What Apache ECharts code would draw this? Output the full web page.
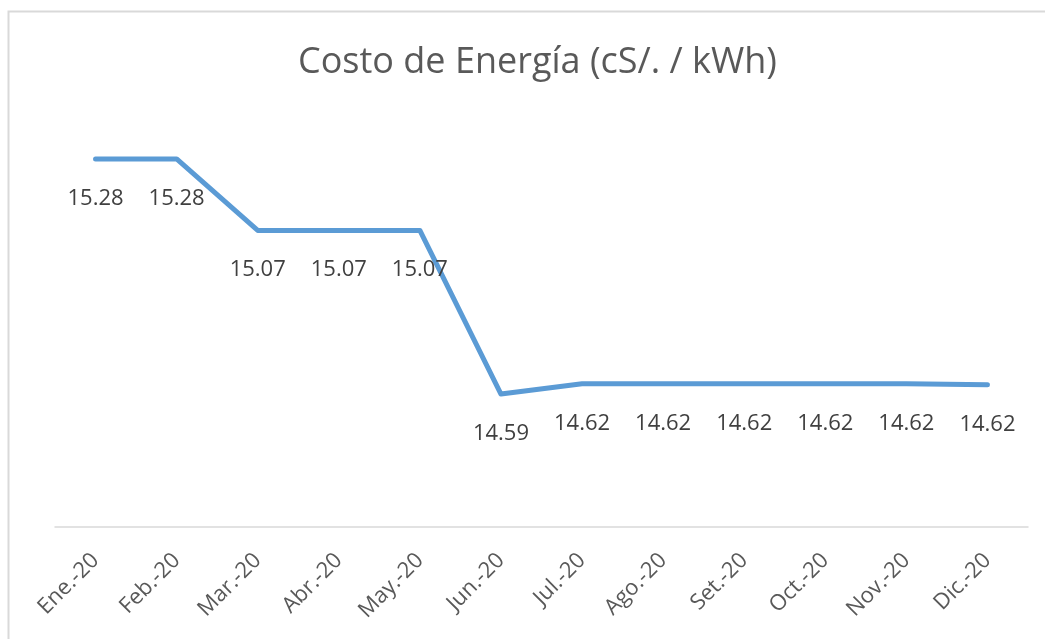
<!DOCTYPE html>
<html>
<head>
<meta charset="utf-8">
<script src="https://cdn.jsdelivr.net/npm/echarts@6/dist/echarts.min.js"></script>
<style>
  html, body { margin: 0; padding: 0; background: #fff; }
  #chart { width: 1045px; height: 639px; }
</style>
</head>
<body>
<div id="chart"></div>
<script>
// meses y costo de energía
const months = ["Ene.-20", "Feb.-20", "Mar.-20", "Abr.-20", "May.-20", "Jun.-20",
  "Jul.-20", "Ago.-20", "Set.-20", "Oct.-20", "Nov.-20", "Dic.-20"];
const costo = [15.28, 15.28, 15.07, 15.07, 15.07, 14.59,
  14.62, 14.62, 14.62, 14.62, 14.62, 14.617];

const chart = echarts.init(document.getElementById("chart"));

const option = {
  animation: false,
  textStyle: { fontFamily: "Open Sans" },
  title: {
    text: "Costo de Energía (cS/. / kWh)",
    left: 293,
    top: 40,
    textStyle: {
      color: "#595959",
      fontSize: 36,
      fontWeight: "normal",
      fontFamily: "Open Sans",
    },
  },
  graphic: [
    {
      type: "rect",
      shape: { x: 8.5, y: 11.5, width: 1100, height: 700 },
      style: { fill: "none", stroke: "#d9d9d9", lineWidth: 2 },
      silent: true,
    },
  ],
  grid: {
    left: 55,
    right: 17,
    top: 118,
    bottom: 112,
  },
  xAxis: {
    type: "category",
    data: months,
    boundaryGap: true,
    axisLine: { lineStyle: { color: "#d9d9d9", width: 1.5 } },
    axisTick: { show: false },
    axisLabel: {
      rotate: 45,
      interval: 0,
      margin: 30,
      color: "#595959",
      fontSize: 22,
    },
  },
  yAxis: {
    type: "value",
    min: 14.2,
    max: 15.4,
    show: false,
    splitLine: { show: false },
  },
  series: [
    {
      type: "line",
      data: costo,
      symbol: "circle",
      symbolSize: 1,
      showSymbol: true,
      itemStyle: { color: "rgba(91,155,213,0)" },
      lineStyle: { color: "#5b9bd5", width: 5, cap: "round", join: "round" },
      label: {
        show: true,
        position: "bottom",
        distance: 28,
        color: "#404040",
        opacity: 1,
        fontSize: 22,
        formatter: (p) => p.value.toFixed(2),
      },
      labelLayout: { hideOverlap: false },
    },
  ],
};

chart.setOption(option);
</script>
</body>
</html>
